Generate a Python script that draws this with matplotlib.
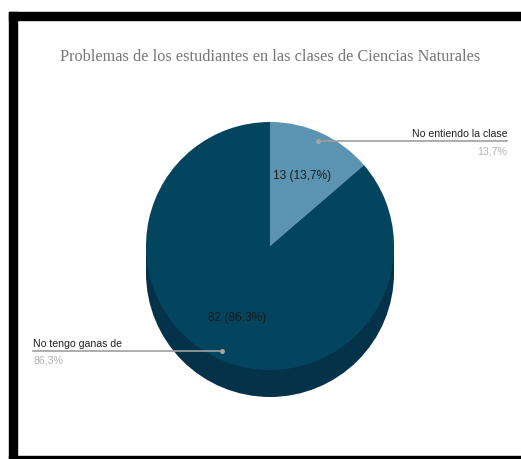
import numpy as np
import matplotlib
matplotlib.use("Agg")
import matplotlib.pyplot as plt
from matplotlib.patches import Wedge, Rectangle

title = "Problemas de los estudiantes en las clases de Ciencias Naturales"
labels = ["No entiendo la clase", "No tengo ganas de"]
counts = [13, 82]
pct_text = ["13,7%", "86,3%"]

top_colors = ["#5b94b1", "#03455f"]
side_color = "#03324a"

W, H = 521, 460
cx, cy, R, depth = 270, 213, 124, 27

fig = plt.figure(figsize=(W / 100, H / 100), dpi=100)
ax = fig.add_axes([0, 0, 1, 1])
ax.set_xlim(0, W)
ax.set_ylim(0, H)
ax.axis("off")

# frame around the chart
fig.patches.append(Rectangle((9 / W, 0), 8 / W, 1 - 13 / H, transform=fig.transFigure,
                             color="black", zorder=0))
fig.patches.append(Rectangle((9 / W, 1 - 21 / H), 1, 8 / H, transform=fig.transFigure,
                             color="black", zorder=0))
fig.patches.append(Rectangle((9 / W, 0), 1, 3 / H, transform=fig.transFigure,
                             color="black", zorder=0))

fig.text(270 / W, 1 - 57 / H, title, ha="center", va="center",
         family="Liberation Serif", fontsize=11.7, color="#777777")

total = sum(counts)
fracs = [c / total for c in counts]

# slice angles, clockwise from 12 o'clock
angles = []
start = 90.0
for f in fracs:
    end = start - f * 360
    angles.append((end, start))
    start = end

# pie thickness: lower half of the cylinder
ax.add_patch(Wedge((cx, cy - depth), R, 180, 360, color=side_color, lw=0))
ax.add_patch(Rectangle((cx - R, cy - depth), 2 * R, depth, color=side_color, lw=0))

for (a0, a1), col in zip(angles, top_colors):
    ax.add_patch(Wedge((cx, cy), R, a0, a1, color=col, lw=0))

for i, ((a0, a1), c, f) in enumerate(zip(angles, counts, fracs)):
    mid = np.radians((a0 + a1) / 2)
    # value label inside the slice
    lr = 0.63 * R
    ax.text(cx + lr * np.cos(mid), cy + lr * np.sin(mid),
            f"{c} ({f * 100:.1f}%)".replace(".", ","),
            ha="center", va="center", family="Liberation Sans",
            fontsize=8.6, color="#1a1a1a")

    # leader line to outside legend text
    pr = 0.93 * R
    px, py = cx + pr * np.cos(mid), cy + pr * np.sin(mid)
    ax.plot([px], [py], "o", ms=2.5, color="#aaaaaa")
    if np.cos(mid) > 0:
        xe, ha = 507, "right"
    else:
        xe, ha = 33, "left"
    ax.plot([px, xe], [py, py], color="#a0a0a0", lw=1.2)
    ax.text(xe, py + 3, labels[i], ha=ha, va="bottom", family="Liberation Sans",
            fontsize=7.6, color="#222222")
    ax.text(xe, py - 4, pct_text[i], ha=ha, va="top", family="Liberation Sans",
            fontsize=7.6, color="#b0b0b0")

fig.savefig("out.png", dpi=100)
